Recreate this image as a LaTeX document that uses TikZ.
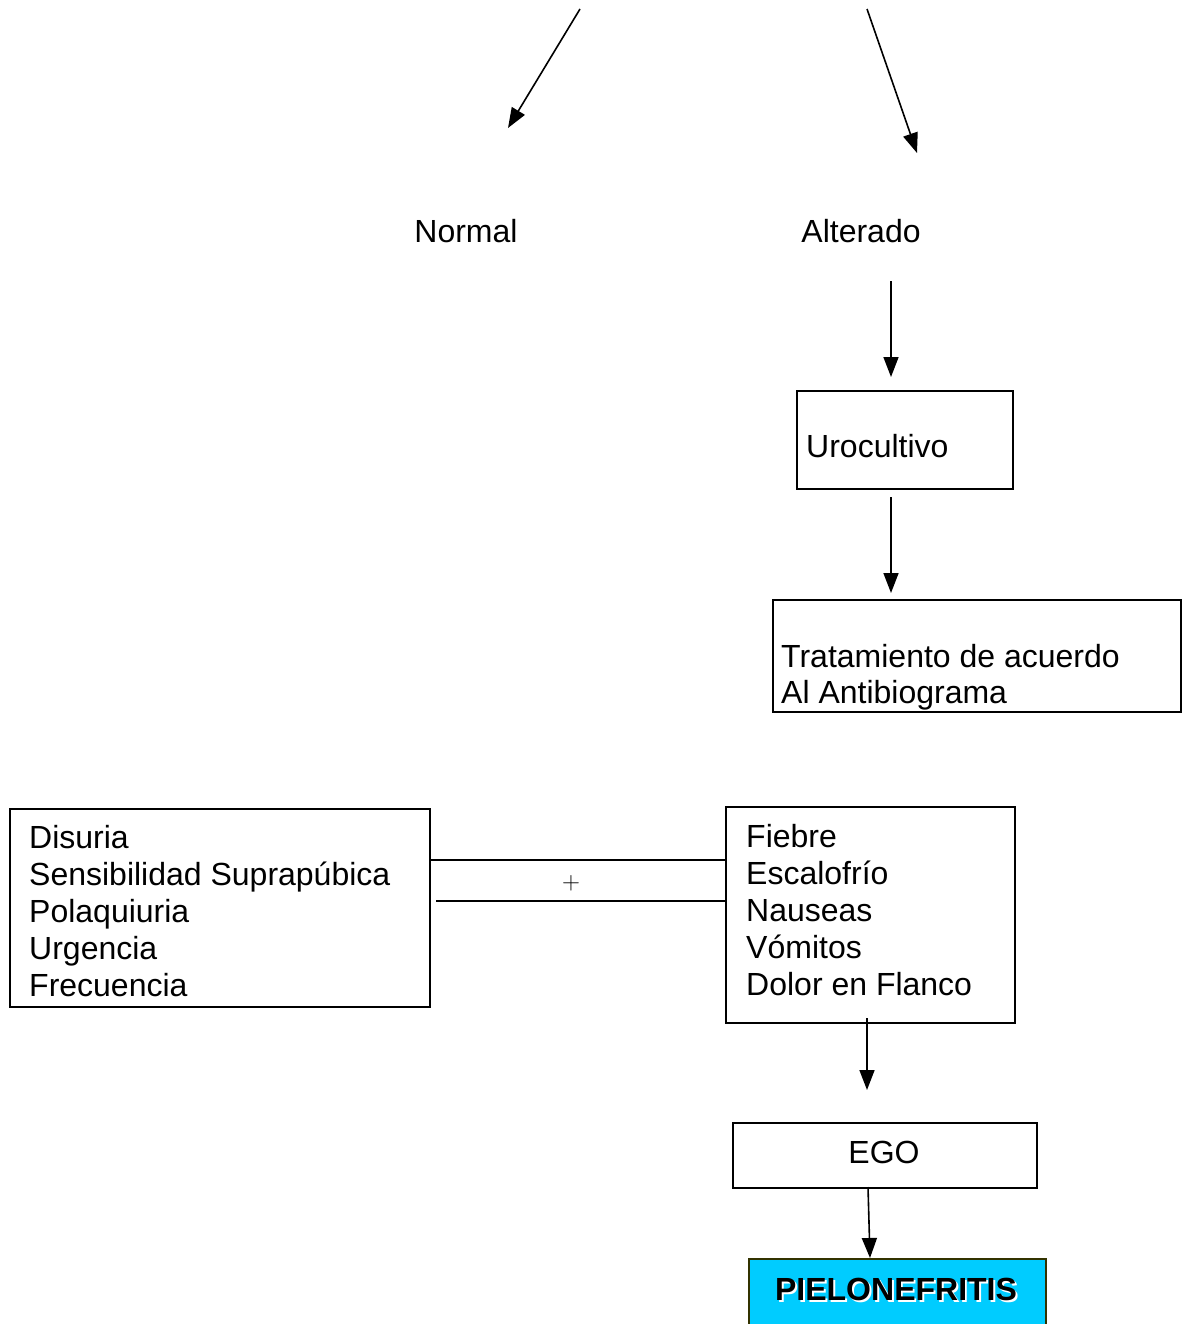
\documentclass[tikz,border=0pt]{standalone}
\usepackage{fontspec}
\setmainfont{Liberation Sans}
\usetikzlibrary{arrows.meta}
\definecolor{cyanbox}{RGB}{0,204,255}
\definecolor{oliveline}{RGB}{51,51,0}
\begin{document}
\begin{tikzpicture}[x=1pt,y=-1pt,
  every node/.style={font=\fontsize{32}{37}\selectfont, inner sep=0pt},
  box/.style={draw, line width=1.5pt, anchor=north west},
  arr/.style={-{Triangle[length=20pt,width=15pt]}, line width=1.6pt},
  plain/.style={line width=1.8pt}]
\useasboundingbox (0,0) rectangle (1182,1324);

% top arrows
\coordinate (t1) at (580,9);
\coordinate (t1e) at (508,128);
\coordinate (t2) at (867,9);
\coordinate (t2e) at (917,153);
\draw[arr] (t1) -- (t1e);
\draw[arr] (t2) -- (t2e);

\node (normal) at (466,231) {Normal};
\node (alterado) at (861,231) {Alterado};

% Urocultivo
\node[box, minimum width=216pt, minimum height=98pt] (urobox) at (796,390) {};
\node[anchor=west] (uro) at (806,446) {Urocultivo};
\coordinate (a1) at (891,281);
\coordinate (a1e) at (891,377);
\draw[arr] (a1) -- (a1e);

% Tratamiento
\node[box, minimum width=408pt, minimum height=112pt] (tratbox) at (772,599) {};
\node[anchor=west, align=left, font=\fontsize{32}{36}\selectfont] (trat) at (781,677) {Tratamiento de acuerdo\\Al Antibiograma};
\coordinate (a2) at (891,497);
\coordinate (a2e) at (891,593);
\draw[arr] (a2) -- (a2e);

% left symptom box
\node[box, minimum width=420pt, minimum height=198pt] (leftbox) at (9,808) {};
\node[anchor=west, align=left] (lefttext) at (29,911) {Disuria\\Sensibilidad Suprapúbica\\Polaquiuria\\Urgencia\\Frecuencia};

% right symptom box
\node[box, minimum width=289pt, minimum height=216pt] (rightbox) at (725,806) {};
\node[anchor=west, align=left] (righttext) at (746,910) {Fiebre\\Escalofrío\\Nauseas\\Vómitos\\Dolor en Flanco};

% connecting lines with +
\draw[plain] (leftbox.east |- 0,860) -- (rightbox.west |- 0,860);
\draw[plain] (436,901) -- (rightbox.west |- 0,901);
\node[font=\fontsize{24}{28}\selectfont] (plus) at (571,883) {$+$};

% EGO
\node[box, minimum width=304pt, minimum height=65pt] (egobox) at (732,1122) {};
\node (ego) at (884,1152) {EGO};
\coordinate (a3) at (867,1018);
\coordinate (a3e) at (867,1090);
\draw[arr] (a3) -- (a3e);

% PIELONEFRITIS
\node[box, draw=oliveline, fill=cyanbox, minimum width=297pt, minimum height=80pt] (piebox) at (748,1258) {};
\node[text=white, font=\fontsize{32}{38}\selectfont\bfseries] (pieshadow) at (898,1291) {PIELONEFRITIS};
\node[font=\fontsize{32}{38}\selectfont\bfseries] (pie) at (896,1289) {PIELONEFRITIS};
\draw[arr] (868,1187) -- (piebox.north -| 870,0);
\end{tikzpicture}
\end{document}
